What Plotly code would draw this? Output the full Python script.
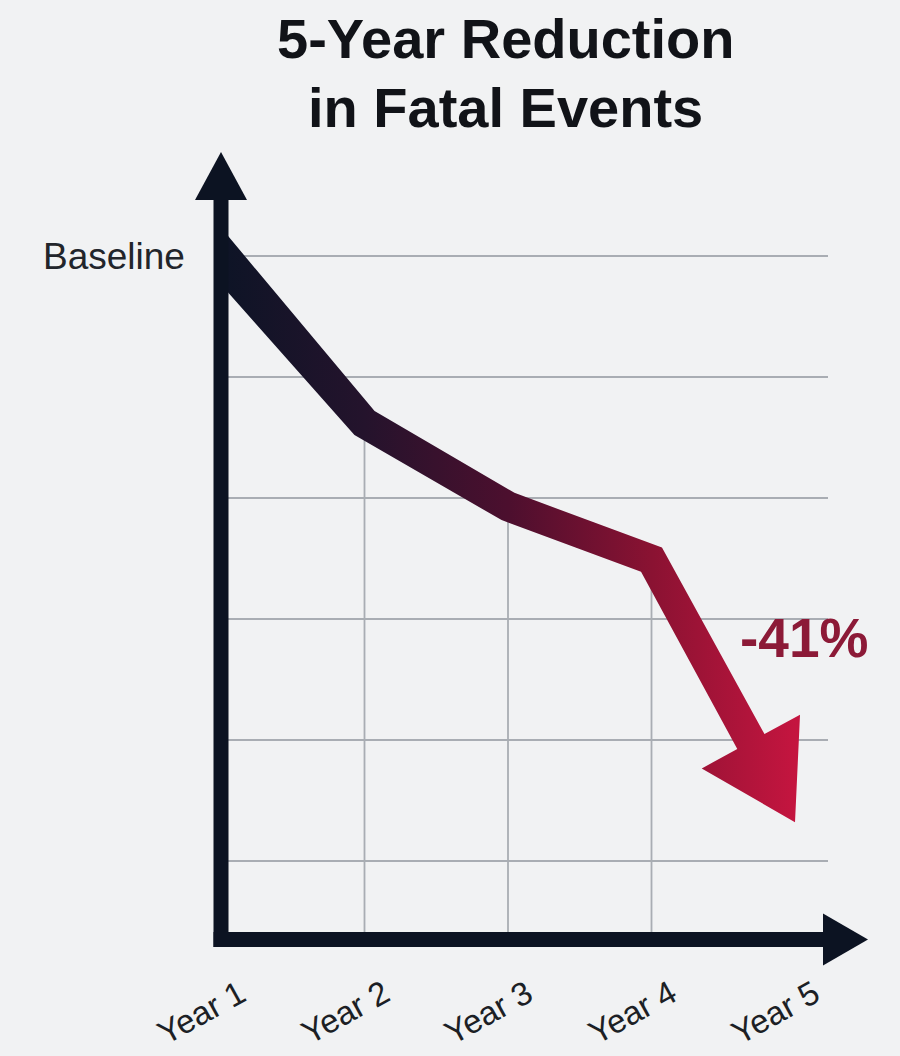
import numpy as np
import plotly.graph_objects as go

# ---------------- data ----------------
years = ["Year 1", "Year 2", "Year 3", "Year 4", "Year 5"]
year_pos = [1, 2, 3, 4, 5]
values = [100, 86.2, 79.3, 74.9, 53.2]          # % of baseline
grid_values = [100, 90, 80, 70, 60, 50]
baseline_label = "Baseline"
change_label = "-41%"
title_lines = ["5-Year Reduction", "in Fatal Events"]

# ---------------- layout geometry ----------------
W, H = 900, 1056
X0_PX, XS_PX = 221.0, 143.5      # pixel of Year 1, pixels per year
Y0_PX, YS_PX = 256.0, 12.1       # pixel of value 100, pixels per unit
x_range = [1 - X0_PX / XS_PX, 1 + (W - X0_PX) / XS_PX]
y_range = [100 - (H - Y0_PX) / YS_PX, 100 + Y0_PX / YS_PX]


def to_px(x, y):
    return np.array([X0_PX + (x - 1) * XS_PX, Y0_PX - (y - 100) * YS_PX])


def to_data(p):
    return 1 + (p[0] - X0_PX) / XS_PX, 100 - (p[1] - Y0_PX) / YS_PX


AXIS_COLOR = "#0c1322"
GRID_COLOR = "#a9adb3"
BG = "#f1f2f3"
axis_floor = to_data((0, 939.5))[1]
grid_right = to_data((828, 0))[0]

fig = go.Figure()

# ---------------- thick gradient arrow (polygon computed from data) ----------------
P = [to_px(x, v) for x, v in zip(year_pos, values)]
tip = P[-1]
u_last = (tip - P[-2]) / np.linalg.norm(tip - P[-2])
HEAD_LEN, HEAD_HW = 92.0, 56.0
base = tip - HEAD_LEN * u_last
pts = P[:-1] + [base]
hws = [18.5, 15.5, 15.0, 15.0, 15.5]


def normal(d):
    d = d / np.linalg.norm(d)
    return np.array([-d[1], d[0]])


left, right = [], []
for i, p in enumerate(pts):
    if i == 0:
        n = normal(pts[1] - pts[0]); s = 1.0
    elif i == len(pts) - 1:
        n = normal(pts[-1] - pts[-2]); s = 1.0
    else:
        n1 = normal(pts[i] - pts[i - 1]); n2 = normal(pts[i + 1] - pts[i])
        n = (n1 + n2) / np.linalg.norm(n1 + n2)
        s = 1.0 / np.dot(n, n1)
    left.append(p + hws[i] * s * n)
    right.append(p - hws[i] * s * n)

# cut the start of the band along the vertical axis line
u_first = (pts[1] - pts[0]) / np.linalg.norm(pts[1] - pts[0])
for side in (left, right):
    t = (X0_PX - side[0][0]) / u_first[0]
    side[0] = side[0] + t * u_first

nb = normal(pts[-1] - pts[-2])
poly = left + [base + HEAD_HW * nb, tip, base - HEAD_HW * nb] + right[::-1] + [left[0]]
poly_data = [to_data(p) for p in poly]

fig.add_trace(go.Scatter(
    x=[p[0] for p in poly_data], y=[p[1] for p in poly_data],
    mode="lines", fill="toself", line=dict(width=0),
    fillgradient=dict(type="horizontal",
                      colorscale=[[0, "#0d1426"], [0.25, "#24132c"], [0.5, "#4c0f2e"],
                                  [0.75, "#8a1232"], [1, "#c4153f"]],
                      start=year_pos[0], stop=year_pos[-1]),
    hoverinfo="skip", showlegend=False))

shapes = []
# horizontal gridlines
for g in grid_values:
    shapes.append(dict(type="line", xref="x", yref="y", x0=year_pos[0], x1=grid_right, y0=g, y1=g,
                       line=dict(color=GRID_COLOR, width=1.8), layer="below"))
# vertical drop lines for inner years
for x, v in zip(year_pos[1:-1], values[1:-1]):
    shapes.append(dict(type="line", xref="x", yref="y", x0=x, x1=x, y0=axis_floor, y1=v,
                       line=dict(color=GRID_COLOR, width=1.8), layer="below"))

# axes with arrowheads
AX_W = 15
y_arrow_base = to_data((0, 200))[1]
y_arrow_tip = to_data((0, 152))[1]
x_arrow_base = to_data((823, 0))[0]
x_arrow_tip = to_data((868, 0))[0]
bottom_outer = to_data((0, 939.5 + AX_W / 2))[1]
left_outer = to_data((221 - AX_W / 2, 0))[0]
shapes.append(dict(type="line", xref="x", yref="y", x0=1, x1=1, y0=bottom_outer, y1=y_arrow_base + 0.3,
                   line=dict(color=AXIS_COLOR, width=AX_W), layer="above"))
shapes.append(dict(type="line", xref="x", yref="y", x0=left_outer, x1=x_arrow_base + 0.03, y0=axis_floor,
                   y1=axis_floor, line=dict(color=AXIS_COLOR, width=AX_W), layer="above"))
hw_x = 26 / XS_PX
hw_y = 26 / YS_PX
shapes.append(dict(type="path", xref="x", yref="y",
                   path=f"M {1 - hw_x} {y_arrow_base} L {1 + hw_x} {y_arrow_base} L 1 {y_arrow_tip} Z",
                   fillcolor=AXIS_COLOR, line=dict(width=0), layer="above"))
shapes.append(dict(type="path", xref="x", yref="y",
                   path=f"M {x_arrow_base} {axis_floor - hw_y} L {x_arrow_base} {axis_floor + hw_y} "
                        f"L {x_arrow_tip} {axis_floor} Z",
                   fillcolor=AXIS_COLOR, line=dict(width=0), layer="above"))

annotations = []
# title
annotations.append(dict(text=f"<b>{title_lines[0]}</b>", xref="paper", yref="paper",
                        x=506 / W, y=1 - 38 / H, xanchor="center", yanchor="middle", showarrow=False,
                        font=dict(family="Liberation Sans", size=56, color="#111318")))
annotations.append(dict(text=f"<b>{title_lines[1]}</b>", xref="paper", yref="paper",
                        x=506 / W, y=1 - 107 / H, xanchor="center", yanchor="middle", showarrow=False,
                        font=dict(family="Liberation Sans", size=56, color="#111318")))
# y label
annotations.append(dict(text=baseline_label, xref="x", yref="y", x=1, y=grid_values[0],
                        xanchor="right", yanchor="middle", xshift=-34, showarrow=False,
                        font=dict(family="Liberation Sans", size=37, color="#22252b")))
# change label
annotations.append(dict(text=f"<b>{change_label}</b>", xref="x", yref="y",
                        x=year_pos[3], y=values[3], xanchor="left", yanchor="middle",
                        xshift=86, yshift=-78, showarrow=False,
                        font=dict(family="Liberation Sans", size=55, color="#8c1a37")))
# x tick labels
for x, lab in zip(year_pos, years):
    annotations.append(dict(text=lab, xref="x", yref="paper", x=x, y=1 - 1012 / H,
                            xanchor="center", yanchor="middle", xshift=-20, textangle=-29,
                            showarrow=False,
                            font=dict(family="Liberation Sans", size=33, color="#1c1f25")))

fig.update_layout(
    width=W, height=H, margin=dict(l=0, r=0, t=0, b=0),
    paper_bgcolor=BG, plot_bgcolor=BG,
    xaxis=dict(range=x_range, visible=False, fixedrange=True),
    yaxis=dict(range=y_range, visible=False, fixedrange=True),
    shapes=shapes, annotations=annotations, showlegend=False,
)

fig.write_html("out.html")
